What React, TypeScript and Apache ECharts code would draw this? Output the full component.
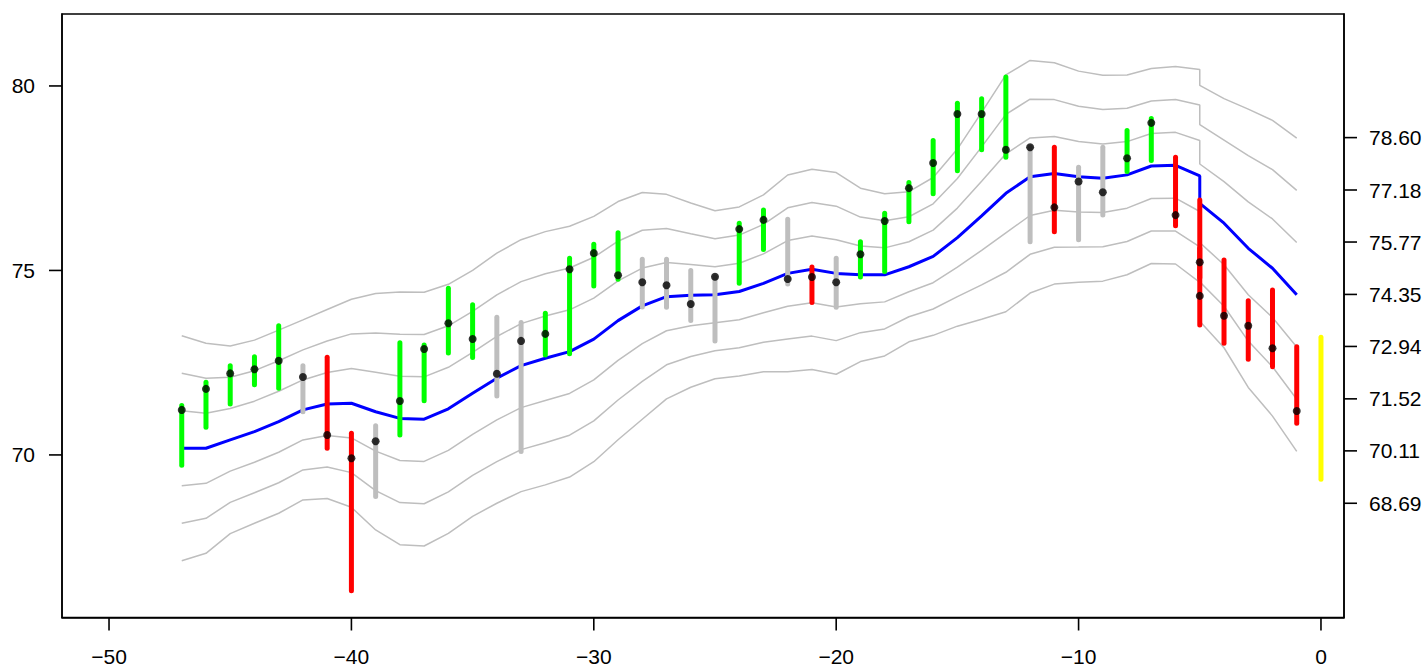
import React, { useEffect, useRef } from "react";
import * as echarts from "echarts";

// time index (x = -5 appears twice in the source data)
const periods = [
  -47, -46, -45, -44, -43, -42, -41, -40, -39, -38,
  -37, -36, -35, -34, -33, -32, -31, -30, -29, -28,
  -27, -26, -25, -24, -23, -22, -21, -20, -19, -18,
  -17, -16, -15, -14, -13, -12, -11, -10, -9, -8,
  -7, -6, -5, -5, -4, -3, -2, -1,
];
const highs = [
  71.34, 71.97, 72.42, 72.66, 73.5, 72.42, 72.65, 70.59, 70.79, 73.04,
  72.98, 74.52, 74.07, 73.73, 73.59, 73.84, 75.33, 75.71, 76.02, 75.3,
  75.3, 75.0, 74.83, 76.28, 76.64, 76.39, 75.09, 75.33, 75.78, 76.55,
  77.38, 78.52, 79.53, 79.65, 80.24, 78.34, 78.34, 77.8, 78.34, 78.79,
  79.12, 78.07, 76.91, 75.6, 75.28, 74.18, 74.47, 72.93,
];
const lows = [
  69.72, 70.75, 71.38, 71.9, 71.81, 71.17, 70.18, 66.32, 68.87, 70.54,
  71.47, 72.76, 72.64, 71.6, 70.09, 72.71, 72.74, 74.58, 74.76, 74.01,
  74.0, 73.64, 73.09, 74.65, 75.57, 74.63, 74.13, 74.0, 74.82, 74.97,
  76.32, 77.08, 77.7, 78.27, 78.07, 75.78, 76.05, 75.83, 76.5, 77.68,
  77.98, 76.21, 74.8, 73.52, 73.03, 72.59, 72.39, 70.86,
];
const closes = [
  71.22, 71.79, 72.21, 72.32, 72.55, 72.11, 70.54, 69.91, 70.37, 71.46,
  72.87, 73.57, 73.14, 72.2, 73.09, 73.28, 75.03, 75.47, 74.87, 74.68,
  74.6, 74.09, 74.83, 76.12, 76.37, 74.77, 74.82, 74.68, 75.44, 76.34,
  77.23, 77.91, 79.24, 79.24, 78.27, 78.34, 76.71, 77.41, 77.12, 78.04,
  79.0, 76.5, 75.22, 74.31, 73.77, 73.5, 72.89, 71.19,
];
// "g" = up (green), "r" = down (red), "n" = neutral (grey)
const moves = [
  "g", "g", "g", "g", "g", "n", "r", "r", "n", "g",
  "g", "g", "g", "n", "n", "g", "g", "g", "g", "n",
  "n", "n", "n", "g", "g", "n", "r", "n", "g", "g",
  "g", "g", "g", "g", "g", "n", "r", "n", "n", "g",
  "g", "r", "r", "r", "r", "r", "r", "r",
];
// centre line (blue) and band step (grey lines at ±1, ±2, ±3 steps)
const bandMid = [
  70.18, 70.18, 70.41, 70.63, 70.9, 71.22, 71.38, 71.4, 71.17, 70.99,
  70.97, 71.25, 71.67, 72.08, 72.42, 72.62, 72.8, 73.14, 73.64, 74.04,
  74.29, 74.33, 74.34, 74.43, 74.65, 74.92, 75.03, 74.92, 74.88, 74.88,
  75.1, 75.38, 75.89, 76.48, 77.09, 77.54, 77.63, 77.54, 77.5, 77.59,
  77.83, 77.85, 77.56, 76.82, 76.28, 75.6, 75.06, 74.34,
];
const bandStep = [
  1.016, 0.949, 0.848, 0.827, 0.827, 0.813, 0.854, 0.94, 1.068, 1.141,
  1.146, 1.125, 1.111, 1.13, 1.138, 1.144, 1.133, 1.108, 1.076, 1.024,
  0.924, 0.832, 0.759, 0.764, 0.799, 0.889, 0.905, 0.911, 0.783, 0.732,
  0.678, 0.713, 0.8, 0.935, 1.07, 1.051, 1.0, 0.954, 0.93, 0.902,
  0.881, 0.892, 0.962, 1.065, 1.125, 1.257, 1.336, 1.415,
];
const bandMultipliers = [3, 2, 1, -1, -2, -3];

// forecast range at x = 0 (yellow)
const forecastX = [0];
const forecastLow = [69.34];
const forecastHigh = [73.19];

const xTicks = [-50, -40, -30, -20, -10, 0];
const leftTicks = [70, 75, 80];
const rightTicks = [78.6, 77.18, 75.77, 74.35, 72.94, 71.52, 70.11, 68.69];

const X_MIN = -51.94;
const X_MAX = 0.95;
const Y_MIN = 65.594;
const Y_MAX = 81.95;

const moveColor: Record<string, string> = {
  g: "#00FF00",
  r: "#FF0000",
  n: "#BEBEBE",
};

const FONT = "Liberation Sans, Arial, Helvetica, sans-serif";
const TICK_LEN = 13;

function fmtX(v: number) {
  return v < 0 ? "\u2212" + Math.abs(v) : String(v);
}

// rich-text pieces: the tick mark is drawn as a filled box inside each axis label
const richBase = {
  num: { fontSize: 21, fontFamily: FONT, color: "#000", verticalAlign: "middle" },
  hTick: { width: TICK_LEN, height: 1.6, backgroundColor: "#000", verticalAlign: "middle" },
  vTick: { width: 1.6, height: TICK_LEN, backgroundColor: "#000", align: "center" },
  gapL: { width: 14, height: 2, verticalAlign: "middle" },
  gapR: { width: 12, height: 2, verticalAlign: "middle" },
  gapX: { width: 2, height: 16, align: "center" },
  numX: { fontSize: 21, fontFamily: FONT, color: "#000", lineHeight: 20, align: "center" },
};

export default function App() {
  const ref = useRef<HTMLDivElement>(null);

  useEffect(() => {
    if (!ref.current) return;
    const chart = echarts.init(ref.current, undefined, { renderer: "svg" });

    const bandSeries = bandMultipliers.map((k) => ({
      type: "line",
      data: periods.map((x, i) => [x, bandMid[i] + k * bandStep[i]]),
      showSymbol: false,
      symbol: "none",
      lineStyle: { color: "#BEBEBE", width: 1.5 },
      z: 1,
      silent: true,
    }));

    const barData = periods.map((x, i) => [x, lows[i], highs[i]]);
    const forecastData = forecastX.map((x, i) => [x, forecastLow[i], forecastHigh[i]]);

    const lineStyle = { color: "#000", width: 1.5 };

    const option: any = {
      animation: false,
      backgroundColor: "#fff",
      grid: {
        left: 62,
        top: 14,
        width: 1282,
        height: 604,
        show: true,
        borderColor: "#000",
        borderWidth: 1.5,
        containLabel: false,
      },
      xAxis: {
        type: "value",
        min: X_MIN,
        max: X_MAX,
        axisLine: { show: true, onZero: false, lineStyle },
        splitLine: { show: false },
        axisTick: { show: false },
        axisLabel: {
          customValues: xTicks,
          formatter: (v: number) => `{vTick|}\n{gapX|}\n{numX|${fmtX(v)}}`,
          rich: richBase,
          margin: 0,
          align: "center",
          verticalAlign: "top",
        },
      },
      yAxis: [
        {
          type: "value",
          position: "left",
          min: Y_MIN,
          max: Y_MAX,
          axisLine: { show: true, onZero: false, lineStyle },
          splitLine: { show: false },
          axisTick: { show: false },
          axisLabel: {
            customValues: leftTicks,
            formatter: (v: number) => `{num|${v}}{gapL|}{hTick|}`,
            rich: richBase,
            margin: 0,
            align: "right",
            verticalAlign: "middle",
          },
        },
        {
          type: "value",
          position: "right",
          min: Y_MIN,
          max: Y_MAX,
          axisLine: { show: true, onZero: false, lineStyle },
          splitLine: { show: false },
          axisTick: { show: false },
          axisLabel: {
            customValues: rightTicks,
            formatter: (v: number) => `{hTick|}{gapR|}{num|${v.toFixed(2)}}`,
            rich: richBase,
            margin: 0,
            align: "left",
            verticalAlign: "middle",
          },
        },
      ],
      series: [
        ...bandSeries,
        {
          type: "line",
          data: periods.map((x, i) => [x, bandMid[i]]),
          showSymbol: false,
          symbol: "none",
          lineStyle: { color: "#0000FF", width: 3 },
          z: 2,
          silent: true,
        },
        {
          type: "custom",
          data: barData,
          encode: { x: 0, y: [1, 2] },
          z: 3,
          silent: true,
          renderItem: (params: any, api: any) => {
            const x = api.value(0);
            const p1 = api.coord([x, api.value(1)]);
            const p2 = api.coord([x, api.value(2)]);
            return {
              type: "line",
              shape: { x1: p1[0], y1: p1[1], x2: p2[0], y2: p2[1] },
              style: {
                stroke: moveColor[moves[params.dataIndex]],
                lineWidth: 5,
                lineCap: "round",
              },
            };
          },
        },
        {
          type: "custom",
          data: forecastData,
          encode: { x: 0, y: [1, 2] },
          z: 3,
          silent: true,
          renderItem: (params: any, api: any) => {
            const x = api.value(0);
            const p1 = api.coord([x, api.value(1)]);
            const p2 = api.coord([x, api.value(2)]);
            return {
              type: "line",
              shape: { x1: p1[0], y1: p1[1], x2: p2[0], y2: p2[1] },
              style: { stroke: "#FFFF00", lineWidth: 5, lineCap: "round" },
            };
          },
        },
        {
          type: "scatter",
          data: periods.map((x, i) => [x, closes[i]]),
          symbol: "circle",
          symbolSize: 8,
          itemStyle: { color: "#000" },
          z: 4,
          silent: true,
        },
      ],
    };

    chart.setOption(option);
    return () => chart.dispose();
  }, []);

  return (
    <div
      ref={ref}
      style={{ position: "fixed", left: 0, top: 0, width: 1425, height: 667, background: "#fff" }}
    />
  );
}
